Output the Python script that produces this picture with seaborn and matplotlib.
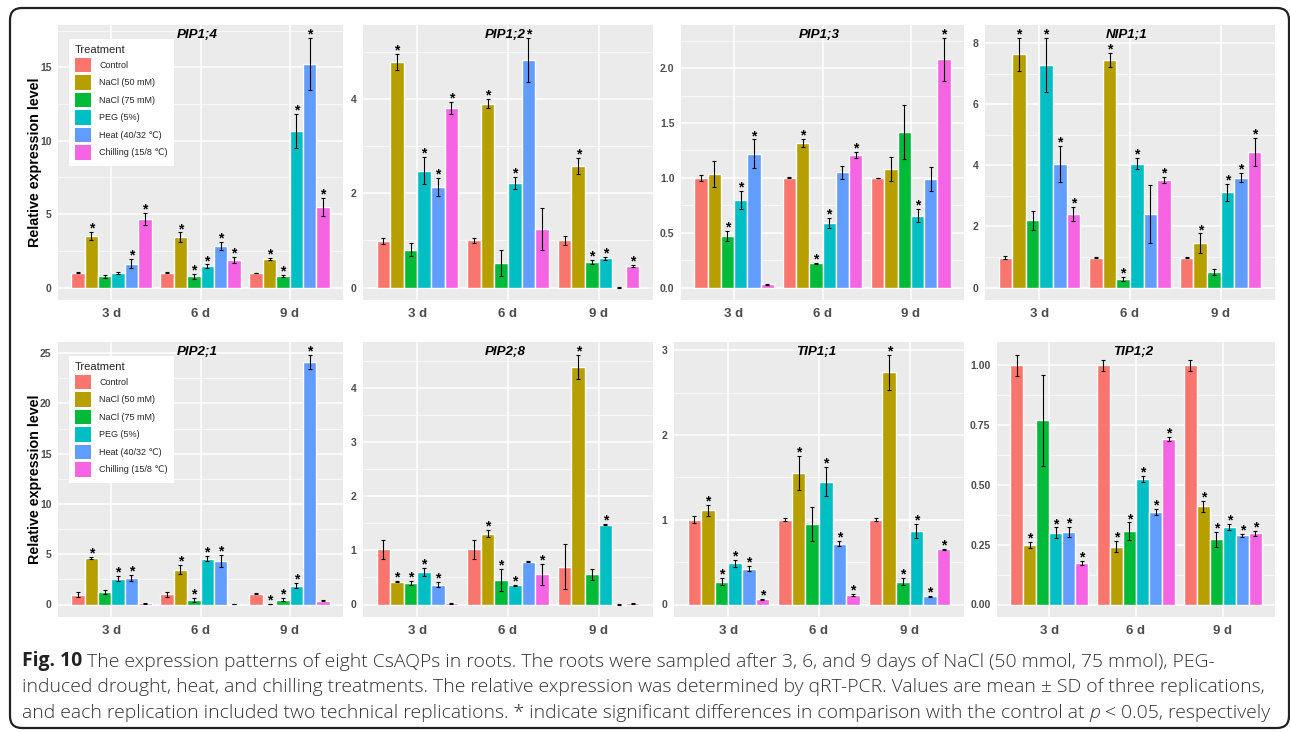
import matplotlib
matplotlib.use("Agg")
import matplotlib.pyplot as plt
import seaborn as sns
import pandas as pd
from matplotlib.patches import Patch, FancyBboxPatch
from matplotlib.transforms import IdentityTransform
from matplotlib.ticker import MultipleLocator, FormatStrFormatter

days = ['3 d', '6 d', '9 d']
treatments = ['Control', 'NaCl (50 mM)', 'NaCl (75 mM)', 'PEG (5%)',
              'Heat (40/32 \u2103)', 'Chilling (15/8 \u2103)']
colors = ['#F8766D', '#B79F00', '#00BA38', '#00BFC4', '#619CFF', '#F564E3']

# rows = days (3 d, 6 d, 9 d), columns = treatments
pip14_mean = [[1.00, 3.49, 0.77, 1.00, 1.63, 4.69],
              [1.00, 3.42, 0.75, 1.45, 2.83, 1.86],
              [1.00, 1.93, 0.79, 10.66, 15.24, 5.49]]
pip14_sd = [[0.03, 0.28, 0.10, 0.08, 0.33, 0.40],
            [0.03, 0.33, 0.15, 0.12, 0.30, 0.20],
            [0.02, 0.05, 0.05, 1.13, 1.79, 0.60]]
pip14_sig = [[0, 1, 0, 0, 1, 1], [0, 1, 1, 1, 1, 1], [0, 1, 1, 1, 1, 1]]

pip12_mean = [[0.99, 4.79, 0.80, 2.48, 2.13, 3.81],
              [1.00, 3.90, 0.52, 2.22, 4.83, 1.24],
              [1.00, 2.57, 0.54, 0.62, 0.00, 0.46]]
pip12_sd = [[0.07, 0.17, 0.14, 0.29, 0.20, 0.13],
            [0.05, 0.09, 0.27, 0.13, 0.47, 0.45],
            [0.10, 0.17, 0.05, 0.03, 0.01, 0.02]]
pip12_sig = [[0, 1, 0, 1, 1, 1], [0, 1, 0, 1, 1, 0], [0, 1, 1, 1, 0, 1]]

pip13_mean = [[1.00, 1.035, 0.47, 0.80, 1.22, 0.03],
              [1.00, 1.32, 0.22, 0.585, 1.05, 1.21],
              [1.00, 1.08, 1.42, 0.655, 0.99, 2.08]]
pip13_sd = [[0.03, 0.12, 0.045, 0.08, 0.13, 0.005],
            [0.005, 0.035, 0.005, 0.045, 0.06, 0.025],
            [0.003, 0.11, 0.245, 0.06, 0.11, 0.20]]
pip13_sig = [[0, 0, 1, 1, 1, 0], [0, 1, 1, 1, 0, 1], [0, 0, 0, 1, 0, 1]]

nip11_mean = [[0.98, 7.64, 2.20, 7.30, 4.04, 2.41],
              [0.98, 7.45, 0.28, 4.06, 2.40, 3.52],
              [0.98, 1.45, 0.51, 3.12, 3.60, 4.44]]
nip11_sd = [[0.05, 0.55, 0.30, 0.89, 0.60, 0.23],
            [0.02, 0.24, 0.07, 0.19, 0.95, 0.10],
            [0.02, 0.32, 0.10, 0.28, 0.15, 0.45]]
nip11_sig = [[0, 1, 0, 1, 1, 1], [0, 1, 1, 1, 0, 1], [0, 1, 0, 1, 1, 1]]

pip21_mean = [[0.99, 4.60, 1.26, 2.58, 2.68, 0.13],
              [1.00, 3.44, 0.46, 4.54, 4.34, 0.06],
              [1.06, 0.02, 0.46, 1.89, 24.17, 0.36]]
pip21_sd = [[0.25, 0.10, 0.20, 0.25, 0.30, 0.05],
            [0.25, 0.45, 0.20, 0.25, 0.60, 0.03],
            [0.06, 0.01, 0.15, 0.25, 0.70, 0.04]]
pip21_sig = [[0, 1, 0, 1, 1, 0], [0, 1, 1, 1, 1, 0], [0, 1, 1, 1, 1, 0]]

pip28_mean = [[1.02, 0.425, 0.395, 0.60, 0.365, 0.02],
              [1.02, 1.31, 0.45, 0.355, 0.79, 0.555],
              [0.70, 4.39, 0.56, 1.47, 0.00, 0.02]]
pip28_sd = [[0.17, 0.01, 0.04, 0.07, 0.05, 0.005],
            [0.17, 0.06, 0.20, 0.01, 0.01, 0.20],
            [0.42, 0.23, 0.10, 0.01, 0.005, 0.005]]
pip28_sig = [[0, 1, 1, 1, 1, 0], [0, 1, 1, 1, 0, 1], [0, 1, 0, 1, 0, 0]]

tip11_mean = [[1.00, 1.11, 0.27, 0.485, 0.42, 0.06],
              [1.00, 1.55, 0.95, 1.45, 0.715, 0.115],
              [1.00, 2.74, 0.27, 0.87, 0.095, 0.65]]
tip11_sd = [[0.04, 0.065, 0.04, 0.04, 0.03, 0.005],
            [0.02, 0.20, 0.20, 0.17, 0.03, 0.01],
            [0.02, 0.21, 0.04, 0.08, 0.005, 0.01]]
tip11_sig = [[0, 1, 1, 1, 1, 1], [0, 1, 0, 1, 1, 1], [0, 1, 1, 1, 1, 1]]

tip12_mean = [[1.00, 0.249, 0.771, 0.30, 0.303, 0.175],
              [1.00, 0.242, 0.307, 0.524, 0.386, 0.692],
              [1.00, 0.41, 0.272, 0.325, 0.289, 0.298]]
tip12_sd = [[0.045, 0.012, 0.19, 0.022, 0.02, 0.008],
            [0.023, 0.022, 0.036, 0.013, 0.012, 0.009],
            [0.023, 0.023, 0.03, 0.012, 0.007, 0.01]]
tip12_sig = [[0, 1, 0, 1, 1, 1], [0, 1, 1, 1, 1, 1], [0, 1, 1, 1, 1, 1]]

genes = ['PIP1;4', 'PIP1;2', 'PIP1;3', 'NIP1;1', 'PIP2;1', 'PIP2;8', 'TIP1;1', 'TIP1;2']
means = [pip14_mean, pip12_mean, pip13_mean, nip11_mean, pip21_mean, pip28_mean, tip11_mean, tip12_mean]
sds = [pip14_sd, pip12_sd, pip13_sd, nip11_sd, pip21_sd, pip28_sd, tip11_sd, tip12_sd]
sigs = [pip14_sig, pip12_sig, pip13_sig, nip11_sig, pip21_sig, pip28_sig, tip11_sig, tip12_sig]
y_steps = [5, 2, 0.5, 2, 5, 1, 1, 0.25]
y_fmts = ['%d', '%d', '%.1f', '%d', '%d', '%d', '%d', '%.2f']

sns.set_theme(style='darkgrid', rc={'axes.facecolor': '#EBEBEB', 'grid.color': 'white'})
plt.rcParams['font.family'] = ['Liberation Sans', 'DejaVu Sans']

W, H = 1290, 732
fig = plt.figure(figsize=(W / 100, H / 100), dpi=100)
fig.patch.set_facecolor('white')

# panel boxes in pixels: (left, right, top, bottom)
boxes = [(58, 343, 25, 300), (363, 653, 25, 300), (681, 964, 25, 300), (985, 1275, 25, 300),
         (58, 343, 342, 617), (363, 653, 342, 617), (674, 964, 342, 617), (997, 1275, 342, 617)]


def draw_panel(ax, name, mean, sd, sig, step, fmt):
    rows = []
    for d, day in enumerate(days):
        for t, trt in enumerate(treatments):
            rows.append(dict(day=day, trt=trt, mean=mean[d][t], sd=sd[d][t], sig=sig[d][t]))
    df = pd.DataFrame(rows)

    sns.barplot(data=df, x='day', y='mean', hue='trt', order=days, hue_order=treatments,
                palette=colors, errorbar=None, width=0.9, gap=0, saturation=1,
                legend=False, ax=ax, zorder=2)

    bar_groups = list(ax.containers)
    for t, cont in enumerate(bar_groups):
        sub = df[df.trt == treatments[t]].set_index('day').loc[days]
        for bar, (m, s, g) in zip(cont, sub[['mean', 'sd', 'sig']].values):
            x = bar.get_x() + bar.get_width() / 2
            ax.errorbar(x, m, yerr=s, color='black', lw=0.8, capsize=1.3,
                        capthick=0.8, zorder=3)
            if g:
                ax.annotate('*', (x, m + s), xytext=(0, 2.5), textcoords='offset points',
                            ha='center', va='center', fontsize=10, fontweight='bold',
                            color='black', zorder=4)

    top = (df['mean'] + df['sd']).max()
    ax.set_ylim(-0.05 * top, 1.05 * top)
    ax.set_xlim(-0.6, 2.6)
    ax.yaxis.set_major_locator(MultipleLocator(step))
    ax.yaxis.set_minor_locator(MultipleLocator(step / 2))
    ax.yaxis.set_major_formatter(FormatStrFormatter(fmt))
    ax.grid(which='major', color='white', lw=1.1)
    ax.grid(which='minor', axis='y', color='white', lw=0.5)
    ax.set_axisbelow(True)
    for sp in ax.spines.values():
        sp.set_visible(False)
    ax.tick_params(axis='both', which='major', length=2.75, width=0.8, color='#333333',
                   labelcolor='#4D4D4D', pad=2)
    ax.tick_params(axis='y', labelsize=7.5)
    ax.tick_params(axis='x', labelsize=9.5, pad=3)
    ax.tick_params(which='minor', length=0)
    for lbl in ax.get_xticklabels():
        lbl.set_fontweight('bold')
    for lbl in ax.get_yticklabels():
        lbl.set_fontweight('bold')
    ax.set_xlabel('')
    ax.set_ylabel('')
    ax.text(0.49, 0.985, name, transform=ax.transAxes, ha='center', va='top',
            fontsize=9.6, fontweight='bold', style='italic', color='black')


for i, (l, r, t, b) in enumerate(boxes):
    ax = fig.add_axes([l / W, 1 - b / H, (r - l) / W, (b - t) / H])
    draw_panel(ax, genes[i], means[i], sds[i], sigs[i], y_steps[i], y_fmts[i])
    if i % 4 == 0:
        ax.set_ylabel('Relative expression level', fontsize=10.3, fontweight='bold', color='black')
        ax.yaxis.set_label_coords(-0.056, 0.5)
        handles = [Patch(facecolor=c, edgecolor='none') for c in colors]
        leg = ax.legend(handles, treatments, title='Treatment', loc='upper left',
                        bbox_to_anchor=(0.038, 0.95), borderaxespad=0, frameon=True,
                        facecolor='white', edgecolor='none', fancybox=False, framealpha=1,
                        fontsize=6.5, title_fontsize=8, handlelength=1.75, handleheight=2.1,
                        labelspacing=0.32, handletextpad=0.9, borderpad=0.7,
                        alignment='left')
        leg.set_zorder(5)

# caption
cap = fig.add_axes([0, 0, 1, 1])
cap.axis('off')
cap.set_zorder(10)
cap_font = ['Open Sans', 'DejaVu Sans']
cap_size = 13.95
cap_col = '#333333'
line1 = ' The expression patterns of eight CsAQPs in roots. The roots were sampled after 3, 6, and 9 days of NaCl (50 mmol, 75 mmol), PEG-'
line2 = 'induced drought, heat, and chilling treatments. The relative expression was determined by qRT-PCR. Values are mean \u00b1 SD of three replications,'
line3a = 'and each replication included two technical replications. * indicate significant differences in comparison with the control at '
line3b = 'p'
line3c = ' < 0.05, respectively'

x0 = 22 / W
t1 = cap.text(x0, 1 - 666 / H, 'Fig. 10', family=cap_font, fontsize=cap_size, fontweight='bold',
              color='#222222', va='baseline', ha='left', transform=cap.transAxes)
cap.annotate(line1, xy=(1, 0), xycoords=t1, va='bottom', ha='left', family=cap_font,
             fontsize=cap_size, fontweight='light', color=cap_col)
cap.text(x0, 1 - 692.5 / H, line2, family=cap_font, fontsize=cap_size, fontweight='light',
         color=cap_col, va='baseline', ha='left', transform=cap.transAxes)
t3 = cap.text(x0, 1 - 718.5 / H, line3a, family=cap_font, fontsize=cap_size, fontweight='light',
              color=cap_col, va='baseline', ha='left', transform=cap.transAxes)
t4 = cap.annotate(line3b, xy=(1, 0), xycoords=t3, va='bottom', ha='left', family=cap_font,
                  fontsize=cap_size, fontweight='light', style='italic', color=cap_col)
cap.annotate(line3c, xy=(1, 0), xycoords=t4, va='bottom', ha='left', family=cap_font,
             fontsize=cap_size, fontweight='light', color=cap_col)

# rounded frame
frame = FancyBboxPatch((10, 4), 1279, 720, boxstyle='round,pad=0,rounding_size=12',
                       transform=IdentityTransform(), fill=False, lw=1.6, ec='#222222',
                       zorder=20)
fig.add_artist(frame)

fig.savefig('out.png', dpi=100, facecolor='white')
